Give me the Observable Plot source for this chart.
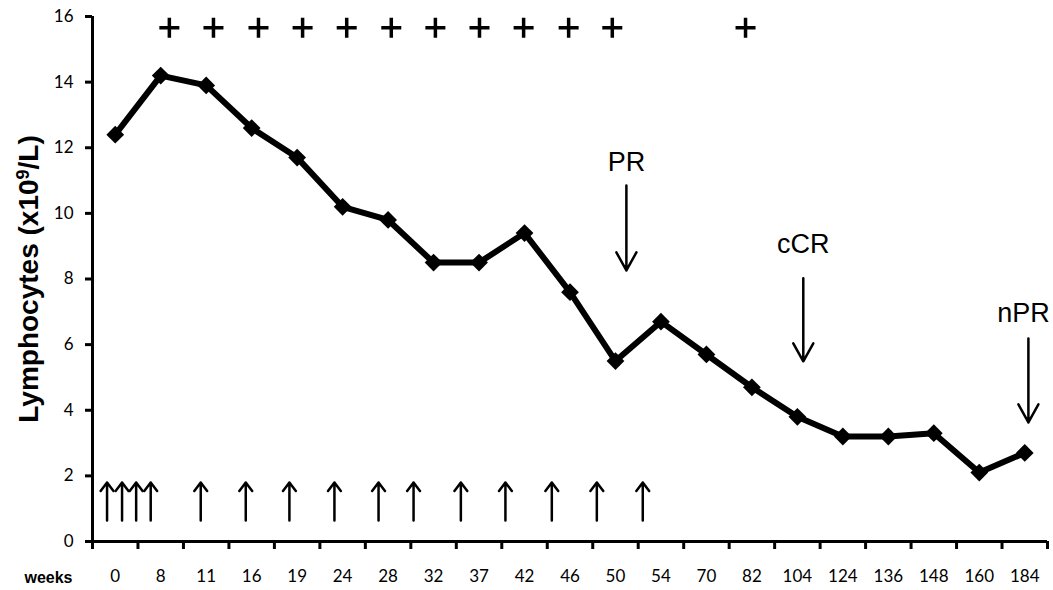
<!DOCTYPE html>
<html>
<head>
<meta charset="utf-8">
<script src="https://cdn.jsdelivr.net/npm/d3@7"></script>
<script src="https://cdn.jsdelivr.net/npm/@observablehq/plot@0.6"></script>
<style>
  html, body { margin: 0; padding: 0; background: #fff; }
</style>
</head>
<body>
<div id="chart"></div>
<script>
// Category axis (weeks) and lymphocyte counts (x10^9/L)
const weeks = ["0","8","11","16","19","24","28","32","37","42","46","50","54","70","82","104","124","136","148","160","184"];
const lymphocytes = [12.4,14.2,13.9,12.6,11.7,10.2,9.8,8.5,8.5,9.4,7.6,5.5,6.7,5.7,4.7,3.8,3.2,3.2,3.3,2.1,2.7];

// "+" markers along the top (position in category-index units)
const plusPositions = [1.19,2.16,3.15,4.12,5.09,6.07,7.04,8.01,8.98,9.97,10.93,13.86];
const plusLevel = 15.66;

// Treatment arrows along the bottom (category-index units)
const doseArrowPositions = [-0.18,0.15,0.46,0.78,1.88,2.87,3.83,4.82,5.79,6.56,7.6,8.58,9.6,10.59,11.6];
const doseArrowFrom = 0.64;
const doseArrowTo = 1.8;

// Response annotations
const responseLabels = ["PR","cCR","nPR"];
const responseArrowX = [11.24,15.13,20.08];
const responseLabelX = [11.24,15.13,19.97];
const responseArrowTop = [10.85,8.02,6.19];
const responseArrowTip = [8.26,5.49,3.63];
const responseLabelY = [11.28,8.78,6.70];

const yTicks = [0,2,4,6,8,10,12,14,16];
const yTitle = "Lymphocytes (x10^9/L)";

const series = weeks.map((w, i) => ({i, week: w, value: lymphocytes[i]}));
const responses = responseLabels.map((label, k) => ({
  label, ax: responseArrowX[k], lx: responseLabelX[k],
  y1: responseArrowTop[k], y2: responseArrowTip[k], ly: responseLabelY[k]
}));

const plusSymbol = {
  draw(context, size) {
    const h = Math.sqrt(size / Math.PI);
    context.moveTo(-h, 0); context.lineTo(h, 0);
    context.moveTo(0, -h); context.lineTo(0, h);
  }
};

const n = weeks.length;
const chart = Plot.plot({
  width: 1053,
  height: 590,
  marginLeft: 92,
  marginRight: 6,
  marginTop: 16,
  marginBottom: 49,
  style: {fontFamily: "Lato", fontSize: "17px", background: "#fff", overflow: "visible"},
  x: {type: "linear", domain: [-0.5, n - 0.5]},
  y: {domain: [0, 16]},
  marks: [
    // axes
    Plot.axisY({ticks: yTicks, tickSize: 7, tickPadding: 12, strokeWidth: 3, fontSize: 17, fontFamily: "Lato", label: null, tickFormat: d => String(d)}),
    Plot.axisX({ticks: d3.range(-0.5, n, 1), tickSize: 8, strokeWidth: 3, tickFormat: () => "", label: null}),
    Plot.axisX({ticks: d3.range(0, n), tickSize: 0, tickPadding: 28, fontSize: 17, fontFamily: "Lato", label: null, tickFormat: i => weeks[i]}),
    Plot.ruleX([-0.5], {y1: 0, y2: 16, strokeWidth: 3}),
    Plot.ruleY([0], {x1: -0.5, x2: n - 0.5, strokeWidth: 3}),
    // series
    Plot.line(series, {x: "i", y: "value", stroke: "black", strokeWidth: 6, strokeLinejoin: "round"}),
    Plot.dot(series, {x: "i", y: "value", symbol: "diamond2", r: 8, fill: "black", stroke: "none"}),
    // plus markers
    Plot.dot(plusPositions, {x: d => d, y: () => plusLevel, symbol: plusSymbol, r: 10, stroke: "black", strokeWidth: 3.5, fill: "none"}),
    // dose arrows
    Plot.arrow(doseArrowPositions, {x: d => d, y1: () => doseArrowFrom, y2: () => doseArrowTo, stroke: "black", strokeWidth: 2.5, headAngle: 74, headLength: 6.4}),
    // response arrows and labels
    Plot.arrow(responses, {x: "ax", y1: "y1", y2: "y2", stroke: "black", strokeWidth: 2.5, headAngle: 58, headLength: 12.4}),
    Plot.text(responses, {x: "lx", y: "ly", text: "label", lineAnchor: "bottom", fontSize: 27, fontFamily: "Liberation Sans", fill: "black"}),
    // titles
    Plot.text([yTitle], {text: d => d, frameAnchor: "left", rotate: -90, dx: -55, lineAnchor: "bottom", textAnchor: "middle", fontSize: 28, fontWeight: "bold", fontFamily: "Liberation Sans", fill: "black"}),
    Plot.text(["weeks"], {text: d => d, frameAnchor: "bottom-left", dx: -20, dy: 41, textAnchor: "end", lineAnchor: "bottom", fontSize: 16, fontWeight: "bold", fontFamily: "Liberation Sans", fill: "black"})
  ]
});

// superscript 9 in the y title
chart.querySelectorAll("text").forEach(t => {
  if (t.textContent === yTitle) {
    const [before, rest] = yTitle.split("^");
    const sup = rest.slice(0, 1), after = rest.slice(1);
    t.textContent = "";
    t.appendChild(document.createTextNode(before));
    const ts = document.createElementNS("http://www.w3.org/2000/svg", "tspan");
    ts.setAttribute("dy", "-9");
    ts.setAttribute("font-size", "18");
    ts.textContent = sup;
    t.appendChild(ts);
    const ts2 = document.createElementNS("http://www.w3.org/2000/svg", "tspan");
    ts2.setAttribute("dy", "9");
    ts2.textContent = after;
    t.appendChild(ts2);
  }
});

document.getElementById("chart").appendChild(chart);
</script>
</body>
</html>
